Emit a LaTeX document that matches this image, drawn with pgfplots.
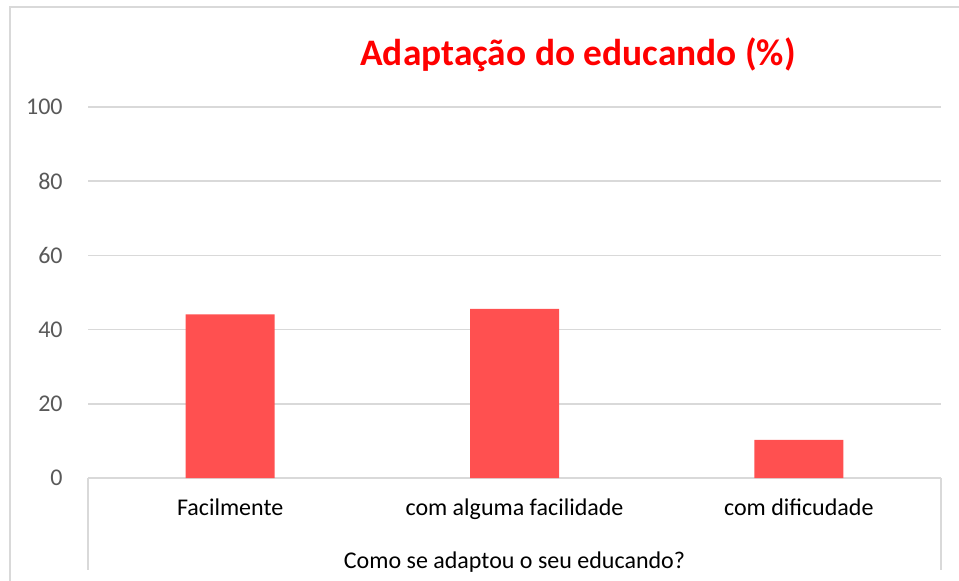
\documentclass[border=0pt]{standalone}
\usepackage{fontspec}
\setmainfont{Carlito}
\usepackage{pgfplots}
\pgfplotsset{compat=1.18}
\definecolor{barred}{HTML}{FF5050}
\definecolor{gridgray}{HTML}{D9D9D9}
\definecolor{ticktext}{HTML}{595959}
\definecolor{titlered}{HTML}{FF0000}
\begin{document}
\begin{tikzpicture}
\useasboundingbox (0,0) rectangle (479.5bp,-290.5bp);
% outer chart border
\draw[gridgray, line width=1.2bp] (5bp,-295bp) -- (5bp,-3.5bp) -- (490bp,-3.5bp);
\begin{axis}[
  at={(44bp,-239bp)}, anchor=south west,
  scale only axis,
  width=426.5bp, height=185.5bp,
  xmin=-0.5, xmax=2.5,
  ymin=0, ymax=100,
  ytick={0,20,40,60,80,100},
  xtick={0,1,2},
  xticklabels={Facilmente, com alguma facilidade, com dificudade},
  major tick length=0pt,
  axis line style={draw=none},
  ymajorgrids,
  grid style={gridgray, line width=0.75bp},
  /pgf/number format/assume math mode=true,
  yticklabel style={font=\fontsize{12bp}{14bp}\selectfont, text=ticktext, anchor=east, inner sep=0pt, xshift=-12.5bp},
  xticklabel style={font=\fontsize{12bp}{14bp}\selectfont, text=black, anchor=base, inner sep=0pt, yshift=-18.5bp},
  xlabel={Como se adaptou o seu educando?},
  xlabel style={font=\fontsize{12bp}{14bp}\selectfont, text=black, at={(axis description cs:0.5,0)}, anchor=base, inner sep=0pt, yshift=-45bp},
  ybar, bar width=44.5bp, bar shift=0pt,
  clip=false,
]
\addplot[fill=barred, draw=none] coordinates {(0,44.1) (1,45.6) (2,10.3)};
\end{axis}
% table-like lines below the axis
\draw[gridgray, line width=0.75bp] (44bp,-239bp) -- (44bp,-285bp);
\draw[gridgray, line width=0.75bp] (470.5bp,-239bp) -- (470.5bp,-285bp);
% title
\node[text=titlered, font=\fontsize{18.7bp}{22bp}\selectfont\bfseries, anchor=center] at (289bp,-27.5bp) {Adaptação do educando (\%)};
\end{tikzpicture}
\end{document}
